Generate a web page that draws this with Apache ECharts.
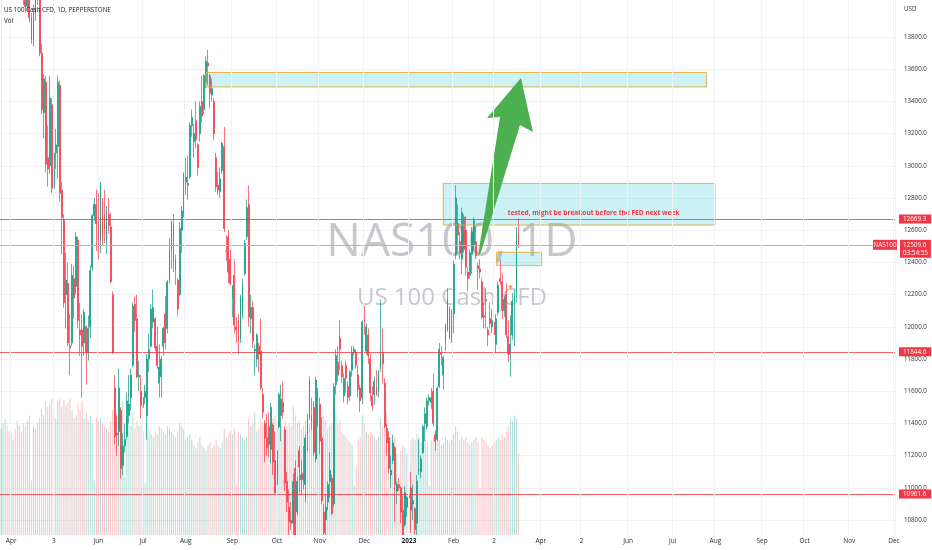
<!DOCTYPE html>
<html>
<head>
<meta charset="utf-8">
<title>NAS100 1D</title>
<script src="https://cdn.jsdelivr.net/npm/echarts@6/dist/echarts.min.js"></script>
<style>
html,body{margin:0;padding:0;background:#ffffff;}
#chart{width:932px;height:550px;}
</style>
</head>
<body>
<div id="chart"></div>
<script>
// ---------- data ----------
const firstDay = '2022-03-25';
const lastDay = '2023-12-01';
const monthLabels = ['Apr','3','Jun','Jul','Aug','Sep','Oct','Nov','Dec','2023','Feb','2','Apr','2','Jun','Jul','Aug','Sep','Oct','Nov','Dec'];
const priceTicks = [10800,11000,11200,11400,11600,11800,12000,12200,12400,12600,12800,13000,13200,13400,13600,13800];
const priceMin = 10707;
const priceMax = 14030;
const volumeMax = 393;
// [open, close, low, high] per daily bar
const ohlc = [
[14760,14780,14650,14850],[14760,14920,14640,14930],[14930,15140,14900,15170],[15120,14980,14930,15150],[14980,14840,14830,15060],
[14850,14860,14700,14920],[14860,15160,14850,15170],[15150,14830,14790,15190],[14800,14500,14350,14810],[14500,14540,14330,14590],
[14560,14300,14290,14580],[14300,14060,14000,14320],[14100,13990,13950,14280],[13990,14270,13960,14300],[14270,13920,13890,14290],
[13920,13780,13760,13950],[13780,13950,13740,14000],[13950,14240,13900,14270],[14280,14070,14000,14330],[14100,13700,13680,14450],
[13700,13350,13320,13760],[13330,13540,13170,13570],[13520,13010,12960,13560],[13050,12980,12870,13250],[13000,13420,12950,13560],
[13380,12860,12830,13420],[12860,13080,12700,13100],[13080,13130,12980,13230],[13120,13520,12920,13560],[13500,12830,12780,13530],
[12850,12680,12450,12900],[12660,12150,12120,12700],[12200,12290,11990,12460],[12270,11900,11880,12400],[11880,11870,11700,12080],
[11900,12320,11880,12390],[12300,12180,12050,12380],[12250,12560,12200,12590],[12540,12040,11990,12560],[11980,11950,11820,12150],
[11980,11880,11560,12080],[11900,12090,11820,12110],[12000,11840,11640,12010],[11840,11990,11790,12070],[12000,12350,11930,12380],
[12370,12690,12350,12700],[12690,12760,12660,12800],[12760,12640,12470,12850],[12650,12540,12420,12830],[12540,12880,12460,12900],
[12780,12550,12500,12800],[12700,12610,12520,12850],[12530,12720,12450,12750],[12700,12630,12580,12800],[12620,12280,12270,12710],
[12200,11840,11830,12220],[11620,11320,11270,11700],[11340,11330,11200,11450],[11350,11620,11260,11740],[11480,11120,11060,11500],
[11140,11260,11080,11340],[11260,11300,11220,11400],[11320,11540,11300,11590],[11450,11520,11400,11700],[11560,11700,11480,11740],
[11760,12130,11750,12150],[12140,12040,11970,12190],[12050,11690,11680,12200],[11690,11700,11600,11790],[11600,11510,11430,11700],
[11500,11560,11370,11600],[11560,11600,11520,11640],[11450,11800,11300,11830],[11800,11860,11720,11960],[11880,12110,11870,12140],
[12030,12120,11990,12230],[12050,11870,11850,12060],[11880,11760,11740,12000],[11650,11750,11560,11890],[11690,11800,11560,11820],
[11880,11990,11820,12000],[12080,11900,11860,12190],[11990,12280,11960,12290],[12290,12480,12270,12550],[12480,12650,12360,12660],
[12640,12400,12340,12700],[12420,12350,12260,12450],[12290,12110,12070,12300],[12200,12610,12190,12650],[12600,12720,12460,12750],
[12700,12950,12680,12960],[12900,12930,12820,13050],[12880,12890,12790,13060],[12930,13250,12920,13270],[13250,13300,13180,13350],
[13150,13200,13050,13260],[13280,13160,13110,13400],[13130,12990,12940,13140],[13200,13370,13150,13400],[13400,13310,13270,13560],
[13350,13560,13320,13570],[13520,13650,13480,13680],[13640,13620,13500,13720],[13560,13450,13360,13570],[13440,13480,13400,13540],
[13400,13200,13160,13420],[13050,12870,12840,13080],[12880,12850,12820,12960],[12840,12920,12800,12990],[12970,13140,12950,13150],
[13120,12610,12590,13240],[12470,12470,12410,12570],[12560,12340,12270,12600],[12420,12270,12260,12480],[12180,12250,12060,12260],
[12320,12010,11960,12420],[12000,11980,11900,12060],[12040,11910,11830,12080],[11920,12180,11900,12200],[12100,12260,12050,12300],
[12330,12520,12320,12540],[12560,12740,12540,12790],[12760,12060,12000,12880],[12050,12120,11960,12200],[12120,11910,11870,12160],
[11850,11860,11700,11890],[11800,11950,11750,11960],[11880,11830,11720,11900],[11850,11620,11610,12050],[11580,11470,11430,11620],
[11400,11310,11160,11420],[11310,11250,11200,11460],[11380,11270,11190,11470],[11240,11500,11150,11530],[11390,11160,11080,11400],
[11170,10970,10960,11350],[11020,11230,10940,11270],[11380,11580,11370,11590],[11450,11550,11290,11640],[11530,11470,11430,11660],
[11360,11030,10980,11380],[11040,10910,10850,11100],[10880,10790,10680,10990],[10800,10780,10740,10910],[10780,11040,10440,11090],
[11120,10690,10680,11170],[10850,11040,10830,11070],[11230,11130,10970,11260],[11050,11080,10960,11170],[11090,11050,10990,11260],
[11020,11310,10910,11330],[11340,11430,11230,11460],[11440,11670,11420,11690],[11450,11420,11360,11560],[11500,11220,11200,11540],
[11180,11670,11160,11690],[11600,11400,11380,11620],[11520,11290,11210,11560],[11310,10920,10900,11440],[10850,10720,10680,10900],
[10800,10880,10650,10960],[10910,11020,10860,11040],[11040,11110,10940,11220],[11060,10840,10830,11080],[10900,11630,10880,11650],
[11640,11820,11580,11860],[11780,11700,11660,11880],[11930,11860,11730,12040],[11760,11690,11650,11790],[11570,11680,11530,11710],
[11760,11680,11590,11790],[11630,11560,11520,11660],[11570,11720,11540,11730],[11730,11840,11690,11880],[11840,11860,11820,11880],
[11840,11760,11740,11860],[11700,11610,11560,11760],[11620,11540,11470,11640],[11560,12030,11520,12040],[12050,12030,11950,12130],
[11850,12000,11830,12020],[11950,11820,11770,11990],[11800,11590,11540,11830],[11570,11510,11480,11630],[11580,11660,11520,11690],
[11630,11580,11570,11730],[11600,11720,11560,11730],[11740,11850,11720,12170],[11840,11770,11650,11990],[11650,11380,11370,11680],
[11370,11280,11200,11400],[11310,11120,11090,11350],[11080,11110,11000,11200],[11170,11280,11150,11330],[11250,11020,10790,11260],
[10980,11020,10900,11040],[11020,11000,10980,11060],[11000,10850,10780,11010],[10860,10680,10670,10950],[10770,10970,10760,11010],
[10880,10940,10820,10950],[10940,10950,10910,10990],[11000,10860,10720,11100],[10900,10920,10800,11020],[10870,10740,10710,10880],
[10780,11040,10680,11080],[11110,11110,11080,11300],[11100,11180,11060,11200],[11220,11380,11210,11390],[11400,11460,11290,11500],
[11380,11540,11360,11560],[11540,11560,11510,11580],[11530,11560,11490,11620],[11600,11400,11380,11710],[11330,11290,11230,11360],
[11300,11620,11290,11630],[11630,11860,11620,11900],[11840,11830,11760,11880],[11700,11810,11610,11820],[11900,12010,11850,12020],
[11980,12170,11970,12240],[12120,11930,11920,12130],[11930,12100,11900,12110],[12080,12390,11960,12410],[12450,12800,12420,12880],
[12640,12570,12460,12760],[12530,12460,12420,12590],[12420,12710,12330,12740],[12680,12480,12460,12700],[12600,12370,12320,12690],
[12340,12300,12220,12370],[12320,12460,12300,12480],[12450,12590,12330,12620],[12510,12660,12470,12680],[12530,12440,12420,12620],
[12380,12360,12230,12400],[12360,12340,12300,12420],[12280,12060,12050,12300],[12070,12060,11990,12150],[12170,12160,11990,12240],
[11980,11950,11880,12000],[12050,12020,11990,12150],[12000,12040,11960,12110],[12030,11950,11860,12080],[11890,12050,11840,12080],
[12090,12260,12070,12280],[12300,12280,12260,12420],[12280,12100,12050,12330],[12100,12170,12060,12190],[12200,11950,11930,12270],
[11940,11830,11780,12040],[11830,11890,11690,12070],[11950,12160,11920,12210],[12160,12200,11880,12230],[12200,12580,12150,12620],
[12580,12509.6,12490,12675]
];
const volume = [
78,82,85,80,76,74,70,78,84,80,76,82,80,84,88,40,80,78,82,86,
92,88,98,94,96,100,92,86,98,100,94,99,95,97,100,92,86,88,96,92,98,86,90,84,88,82,40,86,
84,86,82,80,78,76,84,92,98,90,96,94,98,42,86,82,80,90,78,84,80,82,
76,38,82,78,74,72,76,74,80,78,76,74,80,78,76,74,72,76,82,80,78,
70,72,74,70,66,64,68,72,66,64,62,66,68,64,66,70,66,64,68,78,72,74,76,
74,78,36,76,74,72,70,72,86,80,82,90,76,78,84,82,84,80,82,84,86,88,
84,86,80,78,84,80,82,80,94,88,82,84,78,80,84,78,82,84,86,82,80,
82,86,88,84,78,80,82,96,90,82,84,76,74,72,70,68,66,36,50,70,72,88,
82,76,74,76,74,72,70,72,86,80,84,90,74,72,70,72,60,34,62,66,64,60,
34,70,72,70,74,72,68,66,70,68,36,70,72,70,74,70,66,68,72,70,68,70,
74,80,76,70,72,70,72,68,66,68,70,72,68,34,72,70,68,66,64,66,
68,70,72,70,74,72,76,80,86,84,88,86,60
];
const levels = [12669.3, 11844.6, 10961.6];
const lastPrice = 12509.6;
const countdown = '03:54:55';
const symbolTag = 'NAS100';
// zones: [startBar, endBar, topPrice, bottomPrice]
const zones = [
  [101.0, 347.7, 13580, 13490],
  [217.9, 351.8, 12891, 12632],
  [244.2, 266.4, 12463, 12380]
];
// arrow outline in [bar, price]
const arrowPath = [[256.2,13545],[262.1,13210],[255.7,13253],[236.5,12465],[235.0,12440],[245.9,13303],[239.5,13297]];
const noteAt = [249.7, 12705];
const noteText = 'tested, might be breakout before the FED next week';
const eventMark = [251.1, 12245];
const titleText = 'US 100 Cash CFD, 1D, PEPPERSTONE';
const watermark1 = 'NAS100, 1D';
const watermark2 = 'US 100 Cash CFD';

// ---------- build ----------
function weekdays(a, b) {
  const out = [];
  const d = new Date(a + 'T00:00:00Z');
  const e = new Date(b + 'T00:00:00Z');
  while (d <= e) {
    const w = d.getUTCDay();
    if (w !== 0 && w !== 6) out.push(d.toISOString().slice(0, 10));
    d.setUTCDate(d.getUTCDate() + 1);
  }
  return out;
}
const categories = weekdays(firstDay, lastDay);
const labelAt = {};
let mi = 0;
for (let i = 1; i < categories.length; i++) {
  if (categories[i].slice(5, 7) !== categories[i - 1].slice(5, 7)) labelAt[i] = monthLabels[mi++];
}
const isLabel = (i) => labelAt[i] !== undefined;

const UP = '#089981', DOWN = '#f23645';
const FONT = '"Open Sans", "Liberation Sans", sans-serif';

const chart = echarts.init(document.getElementById('chart'));
chart.setOption({
  animation: false,
  backgroundColor: '#ffffff',
  textStyle: { fontFamily: FONT },
  grid: { left: 0, right: 37, top: 0, bottom: 15 },
  xAxis: [
    {
      type: 'category', data: categories, boundaryGap: true, z: 20,
      axisLine: { show: false }, axisTick: { show: false },
      axisLabel: {
        interval: (i) => isLabel(i), margin: 3, fontSize: 6.5, color: '#2a2e39',
        formatter: (v, i) => labelAt[i] === '2023' ? '{b|2023}' : (labelAt[i] || ''),
        rich: { b: { fontWeight: 'bold', fontSize: 6.5, color: '#131722' } }
      },
      splitLine: { show: true, interval: (i) => isLabel(i), lineStyle: { color: '#f2f3f7', width: 1 } }
    },
    { type: 'value', min: -0.5, max: categories.length - 0.5, show: false }
  ],
  yAxis: [
    {
      type: 'value', position: 'right', min: priceMin, max: priceMax,
      axisLine: { show: true, lineStyle: { color: '#e6e8ee' } },
      axisTick: { show: false, customValues: priceTicks },
      axisLabel: { customValues: priceTicks, formatter: (v) => v.toFixed(1), fontSize: 6.2, color: '#2a2e39', margin: 9 },
      splitLine: { show: true, lineStyle: { color: '#f0f2f6', width: 1 } }
    },
    { type: 'value', min: 0, max: volumeMax, show: false }
  ],
  series: [
    {
      type: 'bar', name: 'Vol', xAxisIndex: 0, yAxisIndex: 1, barWidth: 1, silent: true, z: 2,
      data: volume.map((v, i) => ({ value: v, itemStyle: { color: (ohlc[i] && ohlc[i][1] >= ohlc[i][0]) ? 'rgba(8,153,129,0.32)' : 'rgba(242,54,69,0.30)' } }))
    },
    {
      type: 'candlestick', name: 'NAS100', xAxisIndex: 0, yAxisIndex: 0, z: 3, barWidth: 1.4, clip: true,
      data: ohlc,
      itemStyle: { color: UP, color0: DOWN, borderColor: UP, borderColor0: DOWN, borderWidth: 0.7 },
      markLine: {
        silent: true, symbol: 'none', animation: false,
        data: levels.map((v) => ({
          yAxis: v,
          lineStyle: { color: 'rgba(242,54,69,0.8)', width: 1, type: 'solid' },
          label: { show: true, position: 'end', distance: 4, formatter: v.toFixed(1), color: '#ffffff', backgroundColor: DOWN, padding: [2, 5, 1, 4], fontSize: 6.3 }
        })).concat([{
          yAxis: lastPrice,
          lineStyle: { color: '#c3a9c9', width: 1, type: 'solid' },
          label: { show: true, position: 'end', distance: 5, offset: [0, 4], formatter: lastPrice.toFixed(1) + '\n' + countdown, color: '#ffffff', backgroundColor: DOWN, padding: [1, 3, 1, 3], fontSize: 6.3, lineHeight: 8 }
        }])
      }
    },
    {
      type: 'custom', name: 'zones', xAxisIndex: 1, yAxisIndex: 0, z: 5, silent: true,
      encode: { x: [0, 1], y: [2, 3] },
      data: zones,
      renderItem: (params, api) => {
        const a = api.coord([api.value(0), api.value(2)]);
        const b = api.coord([api.value(1), api.value(3)]);
        return { type: 'rect', shape: { x: a[0], y: a[1], width: b[0] - a[0], height: b[1] - a[1] },
          style: { fill: 'rgba(0,188,212,0.2)', stroke: 'rgba(232,170,50,0.9)', lineWidth: 1 } };
      }
    },
    {
      type: 'custom', name: 'arrow', xAxisIndex: 1, yAxisIndex: 0, z: 6, silent: true,
      data: [[arrowPath[0][0], arrowPath[0][1]]],
      renderItem: (params, api) => ({
        type: 'polygon', shape: { points: arrowPath.map((p) => api.coord(p)) },
        style: { fill: '#4caf50' }
      })
    },
    {
      type: 'custom', name: 'note', xAxisIndex: 1, yAxisIndex: 0, z: 7, silent: true,
      data: [noteAt],
      renderItem: (params, api) => {
        const p = api.coord([api.value(0), api.value(1)]);
        return { type: 'text', x: p[0], y: p[1],
          style: { text: noteText, fill: '#f23645', font: 'bold 6.6px ' + FONT, align: 'left', verticalAlign: 'middle' } };
      }
    },
    {
      type: 'custom', name: 'event', xAxisIndex: 1, yAxisIndex: 0, z: 7, silent: true,
      data: [eventMark],
      renderItem: (params, api) => {
        const p = api.coord([api.value(0), api.value(1)]);
        return { type: 'polygon', shape: { points: [[p[0] - 2.2, p[1] - 1.8], [p[0] + 2.2, p[1] - 1.8], [p[0], p[1] + 1.8]] },
          style: { fill: '#ff9800' } };
      }
    }
  ]
});

const yLast = chart.convertToPixel({ yAxisIndex: 0 }, lastPrice);
const gridRect = chart.getModel().getComponent('grid', 0).coordinateSystem.getRect();
chart.setOption({
  graphic: { elements: [
    { type: 'text', z: 1, x: 452, y: 243, silent: true,
      style: { text: watermark1, fill: 'rgba(120,123,134,0.42)', font: '46px ' + FONT, align: 'center', verticalAlign: 'middle' } },
    { type: 'text', z: 1, x: 452, y: 298, silent: true,
      style: { text: watermark2, fill: 'rgba(120,123,134,0.42)', font: '24px ' + FONT, align: 'center', verticalAlign: 'middle' } },
    { type: 'rect', z: 10, silent: true,
      shape: { x: gridRect.x, y: gridRect.y + gridRect.height, width: gridRect.width, height: 550 - (gridRect.y + gridRect.height) },
      style: { fill: '#ffffff' } },
    { type: 'text', z: 100, x: 4, y: 10, silent: true,
      style: { text: titleText, fill: '#131722', font: '6.3px ' + FONT, align: 'left', verticalAlign: 'middle' } },
    { type: 'text', z: 100, x: 4, y: 21, silent: true,
      style: { text: 'Vol', fill: '#131722', font: '6.3px ' + FONT, align: 'left', verticalAlign: 'middle' } },
    { type: 'text', z: 100, x: 904, y: 9, silent: true,
      style: { text: 'USD', fill: '#2a2e39', font: '6.2px ' + FONT, align: 'left', verticalAlign: 'middle' } },
    { type: 'rect', z: 100, silent: true, shape: { x: 873, y: yLast - 5, width: 24, height: 10 }, style: { fill: DOWN } },
    { type: 'text', z: 101, x: 885, y: yLast, silent: true,
      style: { text: symbolTag, fill: '#ffffff', font: '6.3px ' + FONT, align: 'center', verticalAlign: 'middle' } }
  ] }
});
</script>
</body>
</html>
